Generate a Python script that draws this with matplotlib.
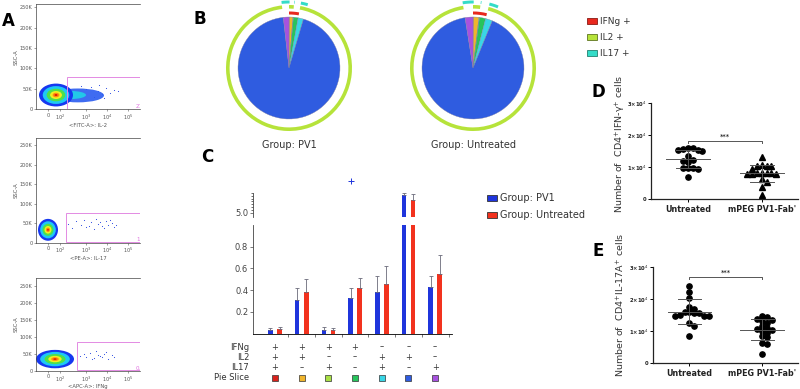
import numpy as np
import matplotlib
matplotlib.use("Agg")
import matplotlib.pyplot as plt
from matplotlib.patches import Ellipse, Rectangle, Wedge
from matplotlib.transforms import blended_transform_factory

# ---------------- data ----------------
# Panel A (flow cytometry) : gate labels, x-axis names, core blob (x-unit, SSC K), sparse events
flow_xlabels = ["<FITC-A>: IL-2", "<PE-A>: IL-17", "<APC-A>: IFNg"]
flow_gate_pct = ["21.3", "1.53", "0.904"]
flow_gate_left = [31, 30, 41]
flow_gate_top = [80, 77, 85]
flow_blob_center = [(20, 35), (12, 33), (19, 35)]
flow_blob_half = [(17, 28), (10, 28), (19, 27)]
flow_tail_x = [[50, 55, 58, 62, 66, 70, 74, 78, 63, 68, 45, 82],
               [32, 36, 40, 45, 50, 55, 58, 62, 66, 70, 72, 76, 68, 74, 80, 60, 48, 53, 64, 78],
               [44, 50, 54, 58, 62, 66, 70, 72, 76, 60, 48, 64, 56, 68, 78]]
flow_tail_y = [[50, 55, 30, 45, 38, 52, 40, 48, 60, 28, 58, 44],
               [48, 38, 55, 45, 40, 52, 36, 48, 42, 55, 45, 50, 38, 58, 46, 60, 58, 44, 52, 40],
               [45, 40, 52, 38, 48, 42, 55, 35, 46, 58, 50, 44, 36, 50, 40]]

# Panel B pies (percent per slice), slice order as in panel C table
pie_pv1 = [0.14, 1.10, 0.14, 1.50, 1.70, 93.62, 1.80]
pie_untr = [0.17, 1.70, 0.17, 1.95, 2.20, 91.31, 2.50]
pie_titles = ["Group: PV1", "Group: Untreated"]
markers = ["IFNg +", "IL2 +", "IL17 +"]

# Panel C
ifng = ["+", "+", "+", "+", "–", "–", "–"]
il2 = ["+", "+", "–", "–", "+", "+", "–"]
il17 = ["+", "–", "+", "–", "+", "–", "+"]
pv1_vals = [0.03, 0.31, 0.03, 0.33, 0.38, 5.62, 0.43]
pv1_err = [0.025, 0.11, 0.035, 0.09, 0.15, 0.08, 0.10]
untr_vals = [0.04, 0.38, 0.03, 0.42, 0.46, 5.45, 0.55]
untr_err = [0.02, 0.12, 0.02, 0.09, 0.16, 0.20, 0.17]
pv1_outlier_group = 3
pv1_outlier_val = 6.12
groups_c = ["Group: PV1", "Group: Untreated"]

# Panels D / E
cats = ["Untreated", "mPEG PV1-Fab'"]
d_untr = np.array([1.53, 1.58, 1.53, 1.56, 1.58, 1.51, 1.34, 1.22, 1.16, 1.20,
                   0.96, 0.96, 0.94, 0.96, 0.70]) * 1e4
d_peg = np.array([1.30, 1.04, 1.04, 1.05, 1.03, 0.94, 0.80, 0.80, 0.79, 0.78,
                  0.77, 0.80, 0.80, 0.63, 0.52, 0.39, 0.13]) * 1e4
e_untr = np.array([2.42, 2.22, 2.03, 1.75, 1.70, 1.60, 1.58, 1.57, 1.55, 1.48,
                   1.46, 1.47, 1.50, 1.25, 1.17, 0.83]) * 1e4
e_peg = np.array([1.48, 1.45, 1.38, 1.35, 1.30, 1.25, 1.15, 1.10, 1.05, 1.00,
                  1.02, 0.95, 0.85, 0.80, 0.62, 0.60, 0.28]) * 1e4
y_ticks_de = [0, 1e4, 2e4, 3e4]
y_ticklabels_de = ["0", "1×10$^4$", "2×10$^4$", "3×10$^4$"]

# ---------------- style ----------------
W, H = 800, 389
fig = plt.figure(figsize=(8, 3.89), dpi=100)
plt.rcParams["font.family"] = ["DejaVu Sans"]

def box(l, t, r, b):
    return [l / W, 1 - b / H, (r - l) / W, (b - t) / H]

def ftext(x, y, s, **kw):
    return fig.text(x / W, 1 - y / H, s, **kw)

def fpatch(x, y, w, h, fc, ec):
    fig.add_artist(Rectangle((x / W, 1 - (y + h / 2) / H), w / W, h / H,
                             transform=fig.transFigure, fc=fc, ec=ec, lw=0.6))

slice_colors = ["#d8221c", "#f0b52c", "#a9e045", "#27c45c", "#39d6e6", "#2f5ce0", "#a752df"]
marker_colors = ["#e8281e", "#b6e33a", "#34dcc8"]
marker_edges = ["#8a1a14", "#5e7420", "#23806f"]

# ---------------- Panel A ----------------
flow_boxes = [(36, 4, 140, 109.3), (36, 138, 140, 242.7), (36, 278, 140, 371)]
flow_ylims = [258, 268, 273]
xt_pos = [12, 24, 50, 71, 92]
xt_lab = ["0", "10$^2$", "10$^3$", "10$^4$", "10$^5$"]
levels = [(1.0, "#1638f0"), (0.78, "#1ec8f5"), (0.55, "#4ee04a"), (0.35, "#f2ee20"),
          (0.2, "#ff8a10"), (0.09, "#e02000")]
for k in range(3):
    ax = fig.add_axes(box(*flow_boxes[k]))
    ax.set_xlim(0, 104)
    ax.set_ylim(0, flow_ylims[k])
    ax.spines["right"].set_visible(False)
    for s in ["left", "bottom", "top"]:
        ax.spines[s].set_linewidth(0.5)
        ax.spines[s].set_color("#444444")
    ax.set_yticks([0, 50, 100, 150, 200, 250])
    ax.set_yticklabels(["0", "50K", "100K", "150K", "200K", "250K"])
    ax.set_xticks(xt_pos)
    ax.set_xticklabels(xt_lab)
    ax.tick_params(labelsize=3.6, length=1.5, width=0.4, pad=1, colors="#555555")
    ax.set_xlabel(flow_xlabels[k], fontsize=3.8, labelpad=0.5, color="#555555")
    ax.set_ylabel("SSC-A", fontsize=3.8, labelpad=1, color="#555555")
    ax.scatter(flow_tail_x[k], flow_tail_y[k], s=0.6, c="#2040e0", lw=0)
    cx, cy = flow_blob_center[k]
    hx, hy = flow_blob_half[k]
    if k == 0:
        ax.add_patch(Ellipse((cx + 22, cy - 1), 2 * 26, 2 * 17, fc="#2a5cf0", ec="none", alpha=0.9))
        ax.add_patch(Ellipse((cx + 14, cy), 2 * 16, 2 * 10, fc="#22c8e8", ec="none"))
    for sc, col in levels:
        ax.add_patch(Ellipse((cx, cy), 2 * hx * sc, 2 * hy * sc, fc=col, ec="none"))
    ax.add_patch(Rectangle((flow_gate_left[k], 1.5), 120, flow_gate_top[k] - 1.5,
                           fill=False, ec="#e38be3", lw=0.7))
    ax.text(100, 4, flow_gate_pct[k], fontsize=4, color="#e070e0", clip_on=True)
ftext(8, 21, "A", fontsize=12, fontweight="bold", ha="center", va="center")

# ---------------- Panel B ----------------
pie_centers = [289, 473]
cy_px = 68
for data, cxp, title in zip([pie_pv1, pie_untr], pie_centers, pie_titles):
    ax = fig.add_axes(box(cxp - 75, cy_px - 75, cxp + 75, cy_px + 75))
    ax.pie(data, colors=slice_colors, radius=51, startangle=90, counterclock=False,
           wedgeprops=dict(edgecolor="#7f7f9f", linewidth=0.25))
    ax.set_xlim(-75, 75)
    ax.set_ylim(-75, 75)
    ax.set_aspect("equal")
    ax.axis("off")
    frac = np.array(data) / np.sum(data)
    cum = np.concatenate([[0], np.cumsum(frac)])
    for sign, col, (r_out, wd) in zip([ifng, il2, il17], marker_colors,
                                      [(56.5, 3.0), (63.0, 3.6), (67.5, 3.0)]):
        pos = [s == "+" for s in sign]
        i = 0
        while i < len(pos):
            if pos[i]:
                j = i
                while j + 1 < len(pos) and pos[j + 1]:
                    j += 1
                t1 = 90 - cum[j + 1] * 360
                t2 = 90 - cum[i] * 360
                ax.add_patch(Wedge((0, 0), r_out, t1, t2, width=wd, fc=col, ec="none"))
                i = j + 1
            else:
                i += 1
    ftext(cxp, 145, title, fontsize=7, ha="center", va="center", color="#333333")
ftext(200, 19, "B", fontsize=12, fontweight="bold", ha="center", va="center")
for m, (lab, fc, ec) in enumerate(zip(markers, marker_colors, marker_edges)):
    y = 21 + 16 * m
    fpatch(587, y, 10, 5, fc, ec)
    ftext(600, y, lab, fontsize=6.5, va="center", color="#333333")

# ---------------- Panel C ----------------
blue_c, red_c = "#1f35dc", "#f2321e"
n = len(pv1_vals)
x = np.arange(n)
ax_lo = fig.add_axes(box(253, 225, 452, 333.7))
ax_hi = fig.add_axes(box(253, 193, 452, 217))
bw = 0.17
for ax, ylim in [(ax_lo, (0, 1.0)), (ax_hi, (4.85, 5.7))]:
    ax.bar(x - bw, pv1_vals, width=bw, color=blue_c)
    ax.bar(x + bw, untr_vals, width=bw, color=red_c)
    ax.errorbar(x - bw, pv1_vals, yerr=[np.zeros(n), pv1_err], fmt="none",
                ecolor="#6a6a7a", elinewidth=0.6, capsize=1.5, capthick=0.6)
    ax.errorbar(x + bw, untr_vals, yerr=[np.zeros(n), untr_err], fmt="none",
                ecolor="#6a6a7a", elinewidth=0.6, capsize=1.5, capthick=0.6)
    ax.set_xlim(-0.824, 6.63)
    ax.set_ylim(*ylim)
    for s in ["top", "right"]:
        ax.spines[s].set_visible(False)
    ax.spines["left"].set_linewidth(0.6)
    ax.spines["left"].set_color("#444444")
    ax.tick_params(labelsize=6, length=2, width=0.5, pad=1.5, colors="#444444")
ax_lo.spines["bottom"].set_linewidth(0.6)
ax_lo.set_yticks([0.2, 0.4, 0.6, 0.8])
ax_lo.set_yticklabels(["0.2", "0.4", "0.6", "0.8"])
ax_lo.set_xticks(x + 0.5)
ax_lo.set_xticklabels([])
ax_hi.spines["bottom"].set_visible(False)
ax_hi.set_xticks([])
ax_hi.set_yticks([5.0])
ax_hi.set_yticklabels(["5.0"])
ax_hi.set_yticks(np.arange(5.1, 5.7, 0.1), minor=True)
ax_hi.tick_params(which="minor", length=1.2, width=0.4)
ax_hi.plot([pv1_outlier_group - bw], [pv1_outlier_val], marker="+", color=blue_c,
           ms=4, mew=0.7, clip_on=False)
tr = blended_transform_factory(ax_lo.transData, fig.transFigure)
rows = [("IFNg", ifng, 347), ("IL2", il2, 357), ("IL17", il17, 368)]
for lab, signs, yp in rows:
    ftext(249, yp, lab, fontsize=6, ha="right", va="center", color="#333333")
    for i, s in enumerate(signs):
        fig.text(i, 1 - yp / H, s, transform=tr, fontsize=6, ha="center", va="center",
                 color="#333333")
ftext(249, 378, "Pie Slice", fontsize=6, ha="right", va="center", color="#333333")
for i in range(n):
    fig.lines.append(plt.Line2D([i], [1 - 378 / H], transform=tr, marker="s", ms=4.5,
                                mfc=slice_colors[i], mec="#333333", mew=0.5, ls="none"))
ftext(207, 157, "C", fontsize=12, fontweight="bold", ha="center", va="center")
for g, (lab, fc) in enumerate(zip(groups_c, [blue_c, red_c])):
    y = 198 + 17 * g
    fpatch(487, y, 10, 6, fc, "#333333")
    ftext(500, y, lab, fontsize=7, va="center", color="#333333")

# ---------------- Panels D / E ----------------
def swarm(vals, px_x, px_y, diam=4.8):
    order = np.argsort(-vals)
    placed = []
    offs = np.zeros(len(vals))
    for i in order:
        yp = vals[i] * px_y
        for k in [0, 1, -1, 2, -2, 3, -3, 4, -4, 5, -5]:
            xp = k * diam
            if all((xp - a) ** 2 + (yp - b) ** 2 >= (diam * 0.95) ** 2 for a, b in placed):
                break
        placed.append((xp, yp))
        offs[i] = xp / px_x
    return offs

def scatter_panel(bx, ylabel, a, b, mk_b, bracket_y, letter, letter_xy, ylab_y):
    ax = fig.add_axes(box(*bx))
    ax.set_xlim(-0.5, 1.49)
    ax.set_ylim(0, 3e4)
    px_x = (bx[2] - bx[0]) / 1.99
    px_y = (bx[3] - bx[1]) / 3e4
    for s in ["top", "right"]:
        ax.spines[s].set_visible(False)
    for s in ["left", "bottom"]:
        ax.spines[s].set_linewidth(0.9)
        ax.spines[s].set_color("#222222")
    for xi, vals, mk in [(0, a, "o"), (1, b, mk_b)]:
        off = swarm(vals, px_x, px_y)
        ax.plot(xi + off, vals, ls="none", marker=mk, ms=3.8, color="black", clip_on=False)
        m, sd = vals.mean(), vals.std(ddof=1)
        ax.plot([xi - 0.3, xi + 0.3], [m, m], color="#555555", lw=0.7)
        ax.plot([xi - 0.16, xi + 0.16], [m + sd, m + sd], color="#555555", lw=0.7)
        ax.plot([xi - 0.16, xi + 0.16], [m - sd, m - sd], color="#555555", lw=0.7)
        ax.plot([xi, xi], [m - sd, m + sd], color="#555555", lw=0.7)
    ax.plot([0, 0, 1, 1], [bracket_y - 600, bracket_y, bracket_y, bracket_y - 600],
            color="#555555", lw=0.7)
    ax.text(0.5, bracket_y + 300, "***", ha="center", va="bottom", fontsize=5)
    ax.set_yticks(y_ticks_de)
    ax.set_yticklabels(y_ticklabels_de)
    ax.set_xticks([0, 1])
    ax.set_xticklabels(cats)
    ax.tick_params(axis="y", labelsize=3.8, length=2, width=0.7, pad=1)
    ax.tick_params(axis="x", labelsize=5.8, length=2, width=0.7, pad=2)
    for t in ax.get_xticklabels() + ax.get_yticklabels():
        t.set_fontweight("bold")
        t.set_color("#222222")
    ftext(621, ylab_y, ylabel, fontsize=6.8, rotation=90, ha="center", va="center",
          color="#333333")
    ftext(letter_xy[0], letter_xy[1], letter, fontsize=12, fontweight="bold",
          ha="center", va="center")

scatter_panel((651, 103, 798, 199), "Number of  CD4$^{+}$IFN-γ$^{+}$ cells",
              d_untr, d_peg, "^", 1.81e4, "D", (598, 92), 144)
scatter_panel((653, 267, 798, 363), "Number of  CD4$^{+}$IL-17A$^{+}$ cells",
              e_untr, e_peg, "o", 2.69e4, "E", (598, 251), 305)

fig.savefig("out.png", dpi=100)
